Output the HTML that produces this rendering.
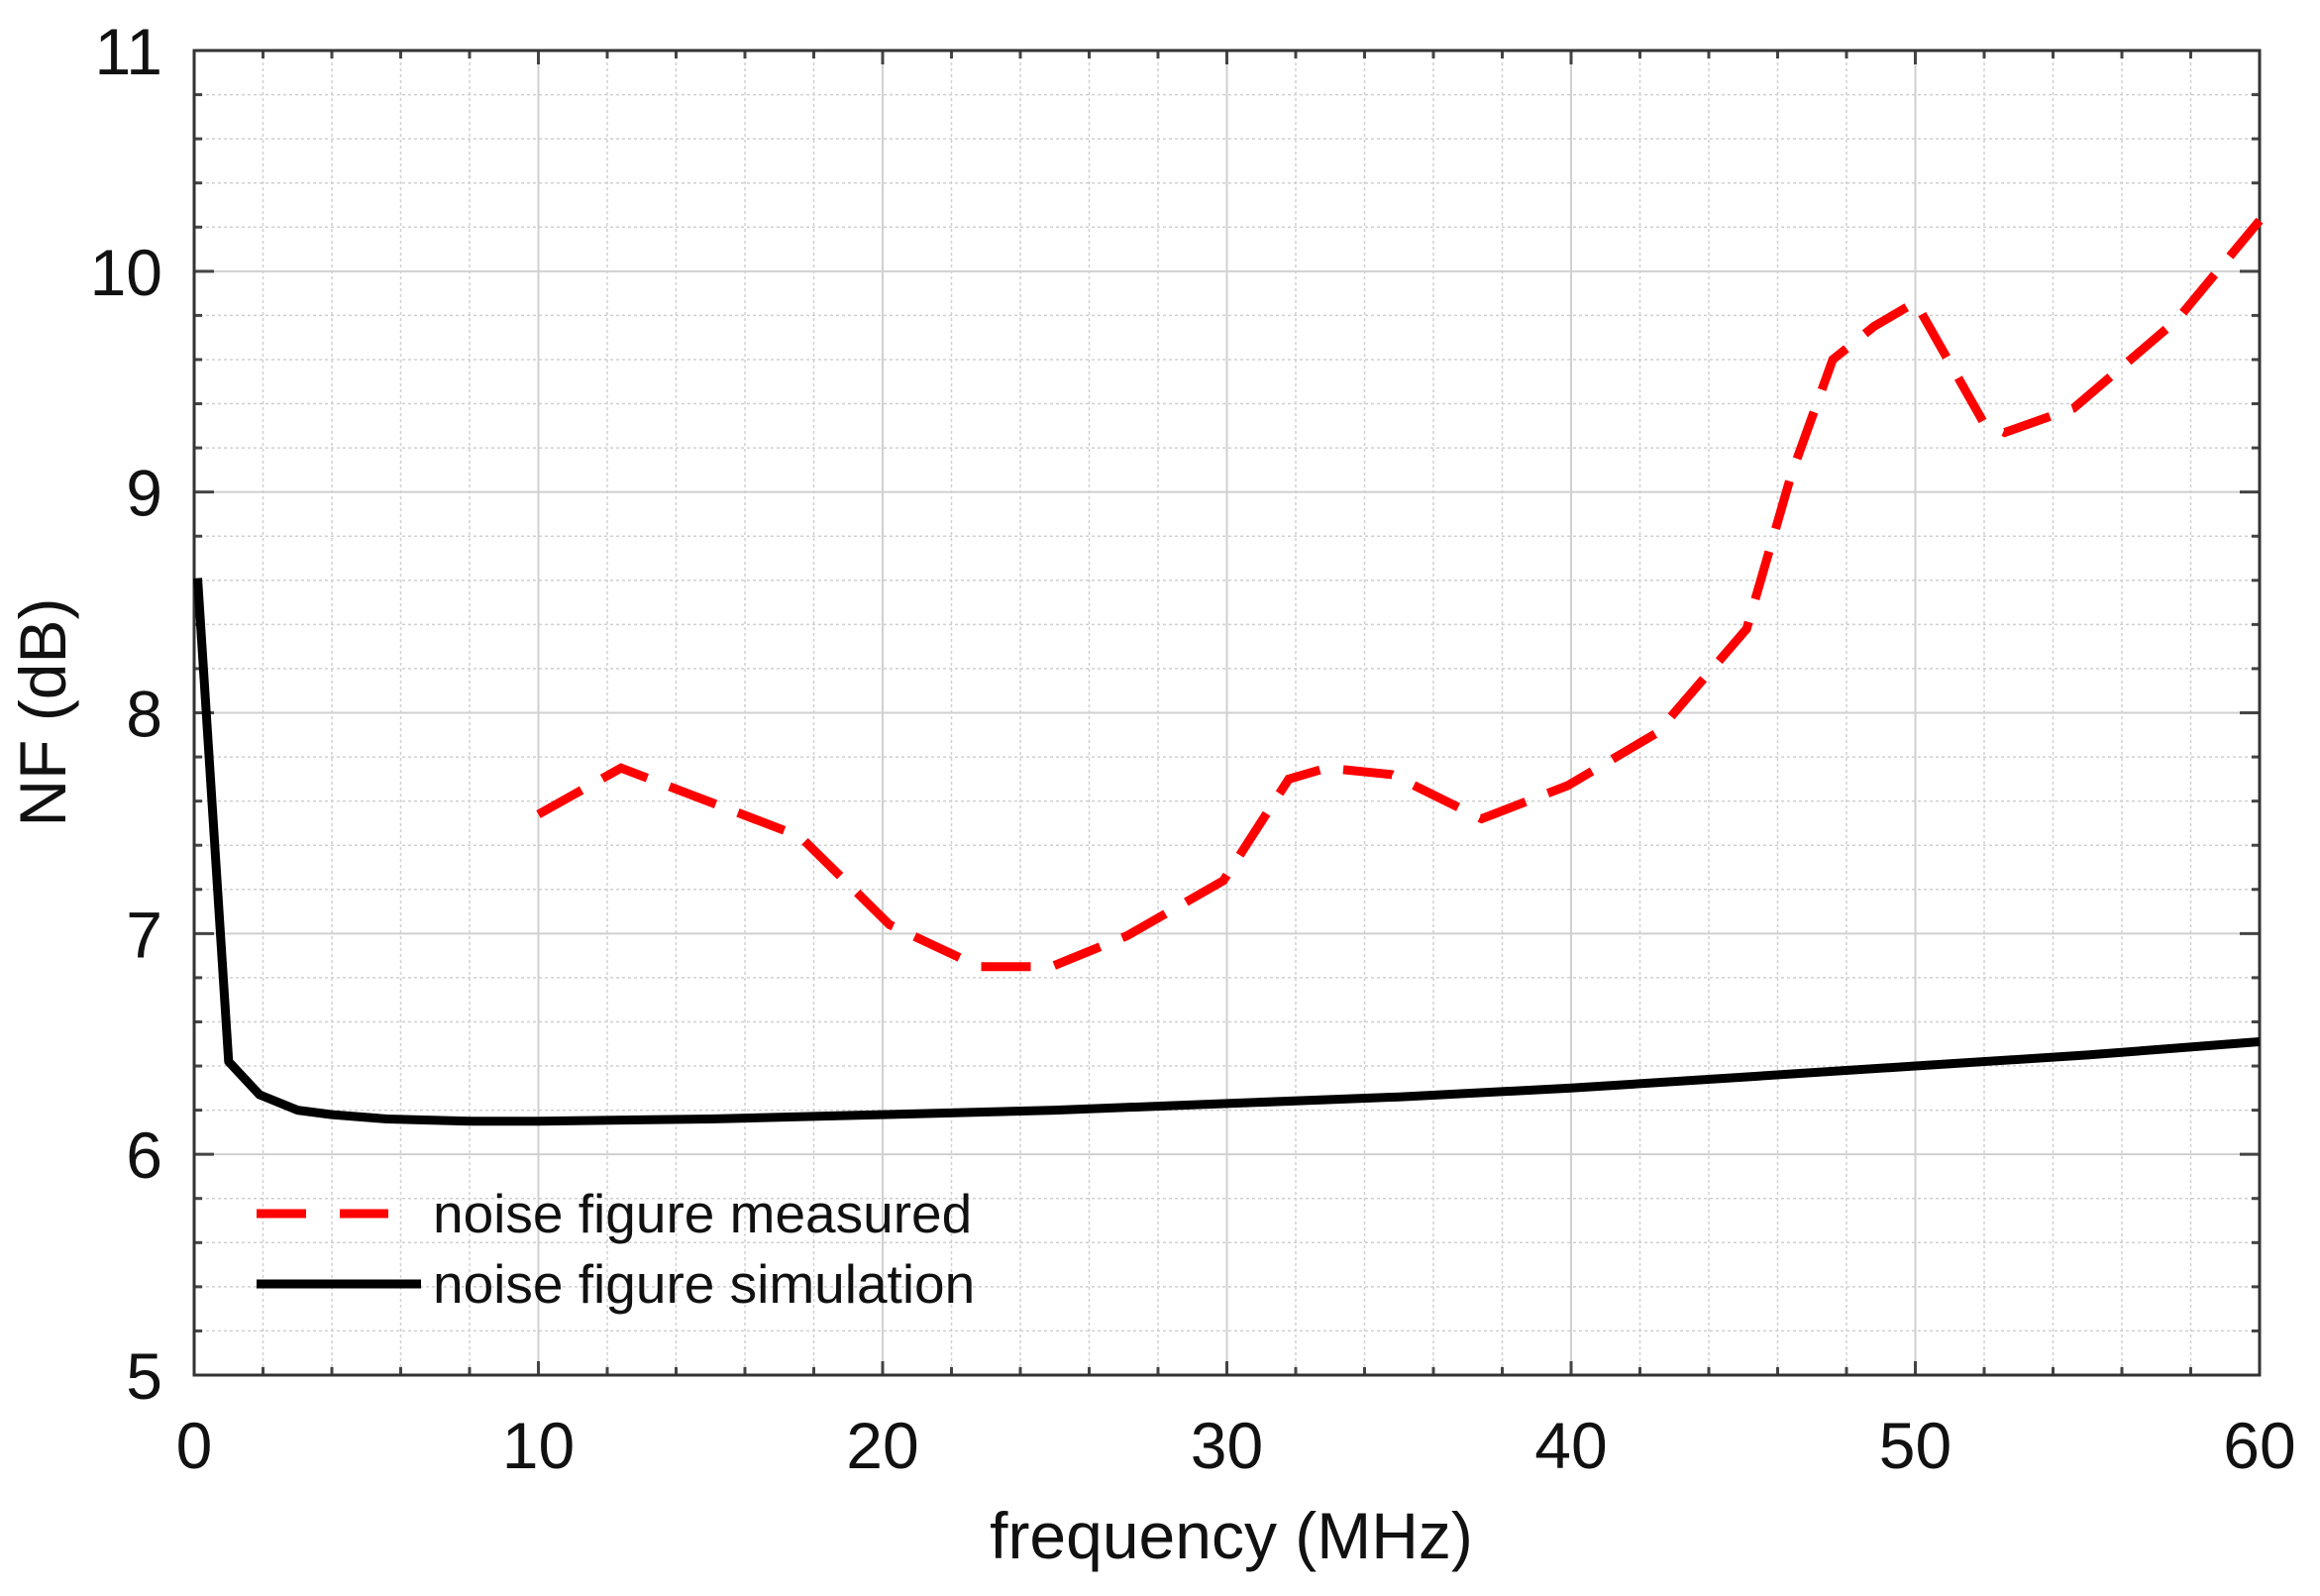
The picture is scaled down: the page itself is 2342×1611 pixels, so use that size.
<!DOCTYPE html>
<html><head><meta charset="utf-8"><style>
html,body{margin:0;padding:0;background:#fff}
svg{display:block}
text{font-family:"Liberation Sans",Arial,sans-serif;fill:#111}
</style></head><body>
<svg id="s" width="2342" height="1611" viewBox="0 0 2342 1611" xmlns="http://www.w3.org/2000/svg">
<g id="grid"></g>
<g id="fg"></g>
</svg>
<script>
const L=196,R=2281,T=51,B=1388;
const X=f=>L+(R-L)*f/60, Y=v=>B-(B-T)*(v-5)/6;
let g='';
for(let f=0;f<=60;f+=2){const x=X(f);g+=`<line x1="${x}" y1="${T}" x2="${x}" y2="${B}" stroke="#d0d0d0" stroke-width="${f%10?1.5:2}" ${f%10?'stroke-dasharray="3 3"':''}/>`;}
for(let i=0;i<=30;i++){const y=Y(5+i*0.2);g+=`<line x1="${L}" y1="${y}" x2="${R}" y2="${y}" stroke="#d0d0d0" stroke-width="${i%5?1.5:2}" ${i%5?'stroke-dasharray="3 3"':''}/>`;}
document.getElementById('grid').innerHTML=g;
let h='';
for(let f=0;f<=60;f+=2){const x=X(f),len=f%10?8:14;h+=`<line x1="${x}" y1="${B}" x2="${x}" y2="${B-len}" stroke="#444" stroke-width="3"/><line x1="${x}" y1="${T}" x2="${x}" y2="${T+len}" stroke="#444" stroke-width="3"/>`;}
for(let i=0;i<=30;i++){const y=Y(5+i*0.2),len=i%5?8:20;h+=`<line x1="${L}" y1="${y}" x2="${L+len}" y2="${y}" stroke="#444" stroke-width="3"/><line x1="${R}" y1="${y}" x2="${R-len}" y2="${y}" stroke="#444" stroke-width="3"/>`;}
h+=`<rect x="${L}" y="${T}" width="${R-L}" height="${B-T}" fill="none" stroke="#333" stroke-width="3"/>`;
for(let f=0;f<=60;f+=10)h+=`<text x="${X(f)}" y="1482" font-size="66" text-anchor="middle">${f}</text>`;
for(let v=5;v<=11;v++)h+=`<text x="164" y="${Y(v)+24}" font-size="66" text-anchor="end">${v}</text>`;
const m=[[10,7.54],[12.4,7.75],[17.6,7.44],[20.2,7.04],[22.8,6.85],[24.9,6.85],[27.1,6.99],[29.9,7.24],[31.8,7.70],[32.9,7.75],[34.8,7.72],[37.4,7.52],[39.9,7.67],[42.5,7.91],[45.1,8.38],[46.4,9.08],[47.6,9.60],[48.8,9.75],[50,9.86],[52,9.31],[52.6,9.27],[54.6,9.38],[57.6,9.78],[60,10.23]];
const s=[[0.1,8.61],[1,6.42],[1.9,6.27],[3,6.20],[4,6.18],[5.6,6.16],[8,6.15],[10,6.15],[15,6.16],[20,6.18],[25,6.2],[30,6.23],[35,6.26],[40,6.30],[45,6.35],[50,6.40],[55,6.45],[60,6.51]];
const P=a=>a.map(p=>X(p[0]).toFixed(1)+','+Y(p[1]).toFixed(1)).join(' ');
h+=`<polyline points="${P(s)}" fill="none" stroke="#000" stroke-width="9" stroke-linejoin="round"/>`;
h+=`<polyline points="${P(m)}" fill="none" stroke="#f00" stroke-width="9" stroke-dasharray="50 24"/>`;
h+=`<line x1="259" y1="1225" x2="392" y2="1225" stroke="#f00" stroke-width="9" stroke-dasharray="50 34"/>`;
h+=`<line x1="259" y1="1296" x2="425" y2="1296" stroke="#000" stroke-width="9"/>`;
h+=`<text x="437" y="1244" font-size="55">noise figure measured</text>`;
h+=`<text x="437" y="1315" font-size="55">noise figure simulation</text>`;
h+=`<text x="1243" y="1573" font-size="66" text-anchor="middle">frequency (MHz)</text>`;
h+=`<text transform="translate(66,719) rotate(-90)" font-size="66" text-anchor="middle">NF (dB)</text>`;
document.getElementById('fg').innerHTML=h;
</script>
</body></html>
